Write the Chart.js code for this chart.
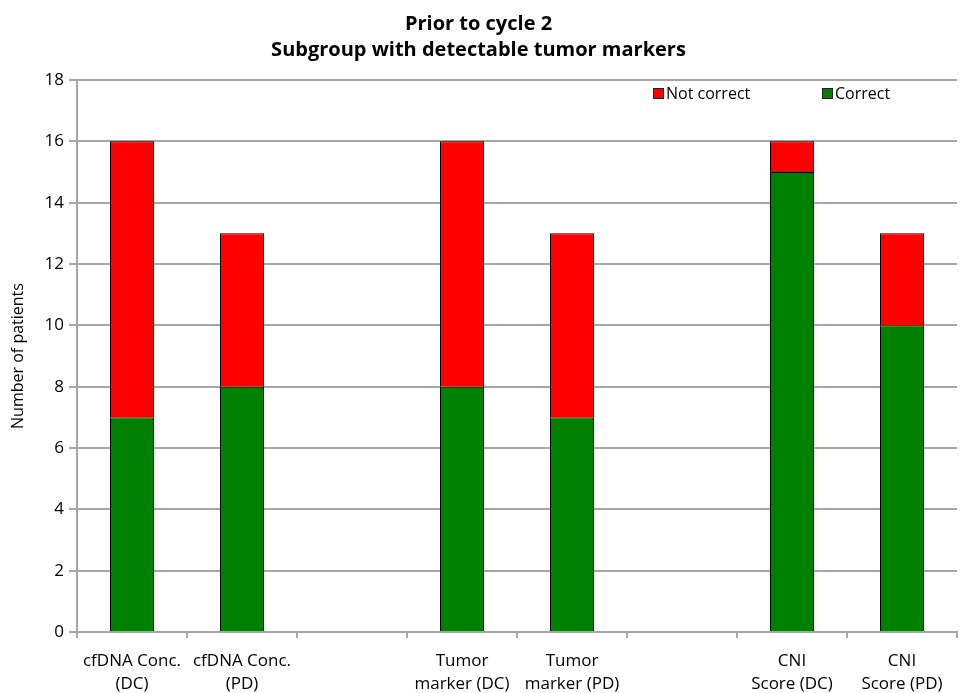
<!DOCTYPE html>
<html>
<head>
<meta charset="utf-8">
<script src="https://cdn.jsdelivr.net/npm/chart.js@4.4.1/dist/chart.umd.min.js"></script>
<style>
  html, body { margin: 0; padding: 0; background: #fff; }
  #wrap { width: 966px; height: 693px; }
</style>
</head>
<body>
<div id="wrap"><canvas id="chart"></canvas></div>
<script>
// values; blank slots are the gaps between groups
const categories = [
  ['cfDNA Conc.', '(DC)'], ['cfDNA Conc.', '(PD)'], '',
  ['Tumor', 'marker (DC)'], ['Tumor', 'marker (PD)'], '',
  ['CNI', 'Score (DC)'], ['CNI', 'Score (PD)']
];
const correct    = [7, 8, null, 8, 7, null, 15, 10];
const notCorrect = [9, 5, null, 8, 6, null, 1, 3];
const yTicks = [0, 2, 4, 6, 8, 10, 12, 14, 16, 18];

const FONT = '"Open Sans", sans-serif';
const GRID = '#a6a6a6';

// legend drawn inside the plot, top right, like the original
const insideLegend = {
  id: 'insideLegend',
  afterDraw(chart) {
    const ctx = chart.ctx;
    const sets = chart.data.datasets;
    const items = [
      { text: sets[1].label, color: sets[1].backgroundColor, x: 653 },
      { text: sets[0].label, color: sets[0].backgroundColor, x: 822 }
    ];
    ctx.save();
    ctx.font = '16px ' + FONT;
    ctx.textBaseline = 'middle';
    items.forEach(it => {
      ctx.fillStyle = it.color;
      ctx.fillRect(it.x, 88, 11, 11);
      ctx.strokeStyle = '#222';
      ctx.lineWidth = 1;
      ctx.strokeRect(it.x + 0.5, 88.5, 10, 10);
      ctx.fillStyle = '#000';
      ctx.fillText(it.text, it.x + 13, 94);
    });
    ctx.restore();
  }
};

new Chart(document.getElementById('chart'), {
  type: 'bar',
  data: {
    labels: categories,
    datasets: [
      { label: 'Correct', data: correct, backgroundColor: '#008000', borderColor: '#000', borderWidth: 1 },
      { label: 'Not correct', data: notCorrect, backgroundColor: '#ff0000', borderColor: '#000', borderWidth: 1 }
    ]
  },
  options: {
    responsive: true,
    maintainAspectRatio: false,
    animation: false,
    layout: { padding: { left: 0, right: 9, top: 0, bottom: 0 } },
    datasets: { bar: { barPercentage: 0.4, categoryPercentage: 1 } },
    plugins: {
      legend: { display: false },
      tooltip: { enabled: false },
      title: {
        display: true,
        text: ['Prior to cycle 2', 'Subgroup with detectable tumor markers'],
        color: '#000',
        font: { family: FONT, size: 20, weight: 'bold', lineHeight: 1.3 },
        padding: { top: 11, bottom: 17 }
      }
    },
    scales: {
      x: {
        stacked: true,
        offset: true,
        afterFit: axis => { axis.height = 61; },
        grid: { offset: true, drawOnChartArea: false, color: GRID, lineWidth: 2, tickLength: 6 },
        border: { color: GRID, width: 2 },
        ticks: {
          color: '#000', font: { family: FONT, size: 17, lineHeight: 1.35 },
          maxRotation: 0, autoSkip: false, padding: 12
        }
      },
      y: {
        stacked: true,
        min: 0,
        max: 18,
        afterBuildTicks: axis => { axis.ticks = yTicks.map(v => ({ value: v })); },
        afterFit: axis => { axis.width = 77; },
        grid: { color: GRID, lineWidth: 2, tickLength: 8 },
        border: { color: GRID, width: 2 },
        ticks: { color: '#000', font: { family: FONT, size: 17 }, padding: 5 },
        title: {
          display: true, text: 'Number of patients', color: '#000',
          font: { family: FONT, size: 16 }, padding: { top: 9, bottom: 0 }
        }
      }
    }
  },
  plugins: [insideLegend]
});
</script>
</body>
</html>
